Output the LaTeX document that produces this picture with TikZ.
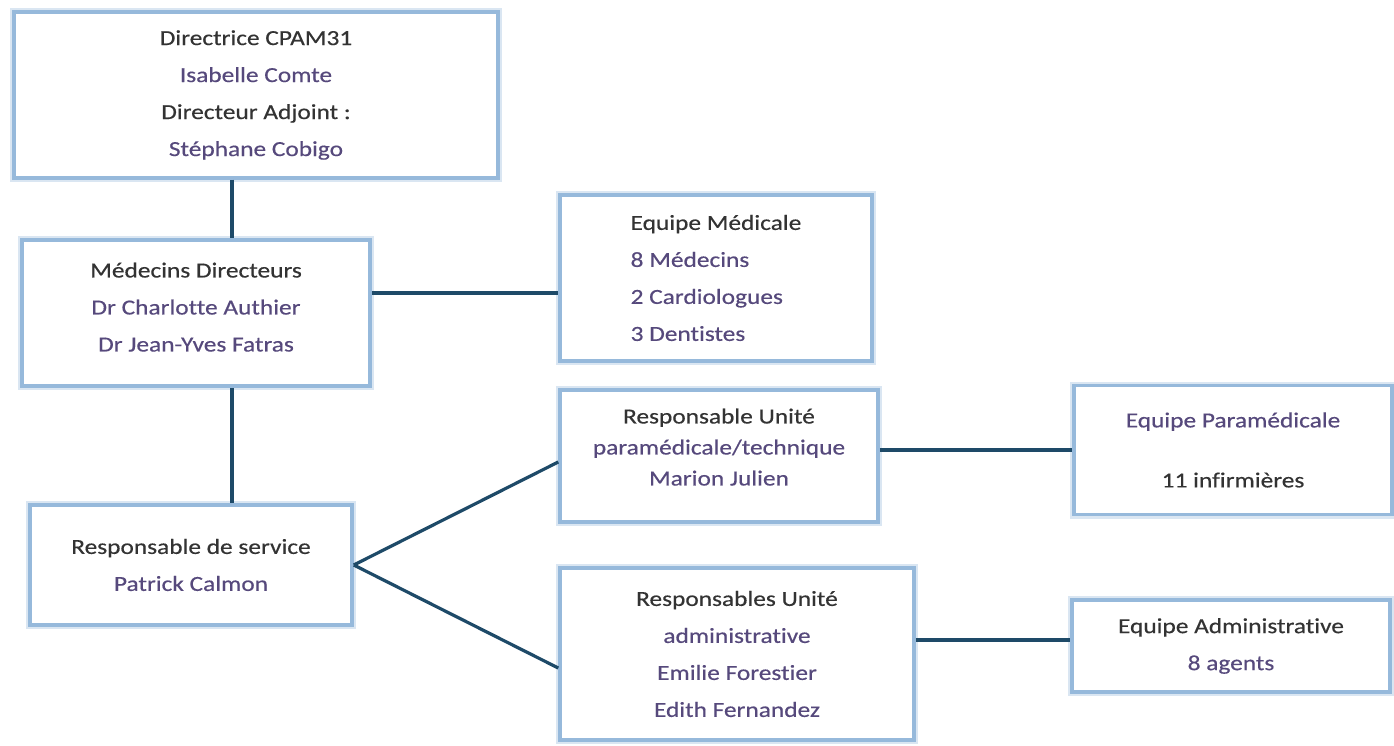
\documentclass[tikz,border=0pt]{standalone}
\usepackage{fontspec}
\setmainfont{Carlito}[FakeStretch=1.18, FakeBold=0.4, Ligatures=NoCommon]
\definecolor{titlegray}{HTML}{333333}
\definecolor{namepurple}{HTML}{56497C}
\definecolor{boxblue}{HTML}{96B9DB}
\definecolor{linkblue}{HTML}{1E4A68}
\begin{document}
\begin{tikzpicture}[x=1pt, y=-1pt,
    orgbox/.style={draw=boxblue, line width=3.5pt, fill=white, inner sep=0pt,
      preaction={draw=boxblue!35, line width=8pt},
      align=center, font=\fontsize{21.5}{37}\selectfont, text=titlegray},
    link/.style={draw=linkblue, line width=3.2pt}]
    \useasboundingbox (0,0) rectangle (1394,746);
    \newcommand{\nm}[1]{\textcolor{namepurple}{#1}}

    % Boxes
    \node[orgbox, minimum width=484pt, minimum height=166pt] (dir) at (256,95)
      {Directrice CPAM31\\ \nm{Isabelle Comte}\\ Directeur Adjoint :\\ \nm{Stéphane Cobigo}};
    \node[orgbox, minimum width=348pt, minimum height=146pt] (med) at (196,313)
      {Médecins Directeurs\\ \nm{Dr Charlotte Authier}\\ \nm{Dr Jean-Yves Fatras}\\[-25pt]};
    \node[orgbox, minimum width=312pt, minimum height=166pt, align=left] (eqmed) at (716,278)
      {Equipe Médicale\\ \nm{8 Médecins}\\ \nm{2 Cardiologues}\\ \nm{3 Dentistes}};
    \node[orgbox, minimum width=322pt, minimum height=120pt] (resp) at (191,565)
      {Responsable de service\\ \nm{Patrick Calmon}};
    \node[orgbox, minimum width=318pt, minimum height=132pt,
      font=\fontsize{21.5}{31}\selectfont] (para) at (719,456)
      {Responsable Unité\\ \nm{paramédicale/technique}\\ \nm{Marion Julien}\\[-13pt]};
    \node[orgbox, minimum width=318pt, minimum height=129pt] (eqpara) at (1233,450)
      {\nm{Equipe Paramédicale}\\[23pt] 11 infirmières};
    \node[orgbox, minimum width=354pt, minimum height=172pt] (admin) at (737,654)
      {Responsables Unité\\ \nm{administrative}\\ \nm{Emilie Forestier}\\ \nm{Edith Fernandez}};
    \node[orgbox, minimum width=318pt, minimum height=92pt] (eqadmin) at (1231,646)
      {Equipe Administrative\\ \nm{8 agents}};

    % Connectors
    \draw[link] ([xshift=-24pt]dir.south) -- ([xshift=-24pt]dir.south |- med.north);
    \draw[link] ([xshift=-24pt]dir.south |- med.south) -- ([xshift=-24pt]dir.south |- resp.north);
    \draw[link] ([yshift=20pt]med.east) -- ([yshift=20pt]med.east -| eqmed.west);
    \draw[link] (resp.east) -- ([yshift=-6pt]para.west);
    \draw[link] (resp.east) -- ([yshift=-14pt]admin.west);
    \draw[link] (eqpara.west -| para.east) -- (eqpara.west);
    \draw[link] ([yshift=6pt]eqadmin.west -| admin.east) -- ([yshift=6pt]eqadmin.west);
\end{tikzpicture}
\end{document}
